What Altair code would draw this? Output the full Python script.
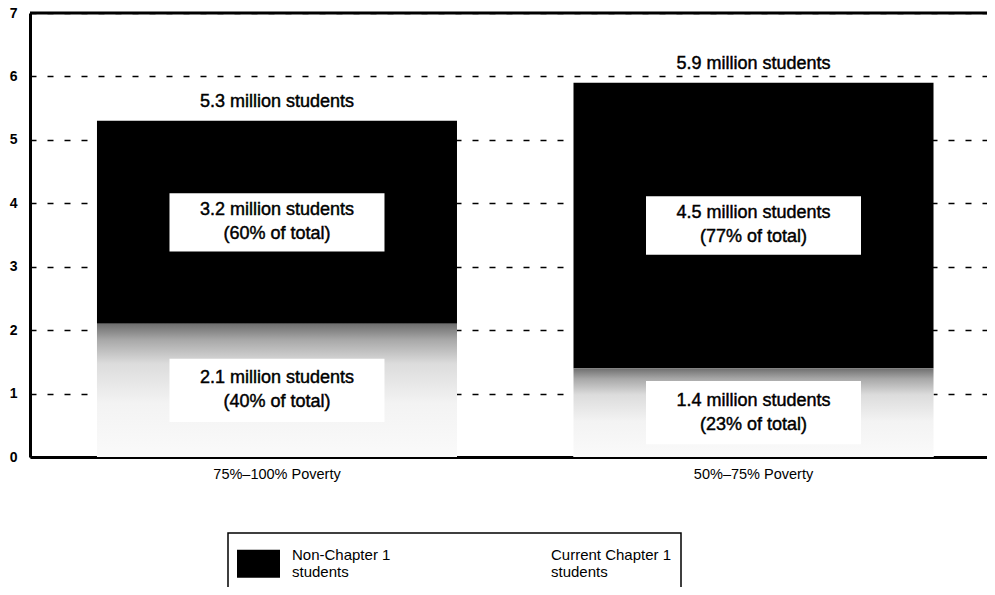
import altair as alt
import pandas as pd

# ---- data ----
categories = ["75%–100% Poverty", "50%–75% Poverty"]
series = ["Non-Chapter 1 students", "Current Chapter 1 students"]
chapter1 = [2.1, 1.4]          # current Chapter 1 students (millions)
non_chapter1 = [3.2, 4.5]      # non-Chapter 1 students (millions)
chapter1_pct = [40, 23]
non_chapter1_pct = [60, 77]
totals = [5.3, 5.9]
y_ticks = [0, 1, 2, 3, 4, 5, 6, 7]

FONT = "Liberation Sans"

rows = []
for i, c in enumerate(categories):
    rows.append(dict(category=c, series=series[1], value=chapter1[i], order=0,
                     mid=chapter1[i] / 2,
                     line1=f"{chapter1[i]} million students",
                     line2=f"({chapter1_pct[i]}% of total)"))
    rows.append(dict(category=c, series=series[0], value=non_chapter1[i], order=1,
                     mid=chapter1[i] + non_chapter1[i] / 2,
                     line1=f"{non_chapter1[i]} million students",
                     line2=f"({non_chapter1_pct[i]}% of total)"))
df = pd.DataFrame(rows)
tot = pd.DataFrame(dict(category=categories, total=totals,
                        text=[f"{t} million students" for t in totals]))

xenc = alt.X("category:N", sort=categories, title=None,
             scale=alt.Scale(paddingInner=0.2445, paddingOuter=0.1264, align=0.556),
             axis=alt.Axis(labelAngle=0, ticks=False, domainWidth=3, domainColor="black",
                           labelFont=FONT, labelFontSize=14.5, labelColor="black",
                           labelPadding=10, grid=False))
yscale = alt.Scale(domain=[0, 7], nice=False)

base = alt.Chart(df)

bars = base.mark_bar().encode(
    x=xenc,
    y=alt.Y("value:Q", stack="zero", scale=yscale, title=None,
            axis=alt.Axis(values=y_ticks, format="d", ticks=False, domainWidth=3,
                          domainColor="black",
                          labelFont=FONT, labelFontSize=14, labelFontWeight="bold",
                          labelColor="black", labelPadding=13,
                          grid=True, gridColor="black", gridWidth=1.5,
                          gridDash=[6, 11])),
    color=alt.Color("series:N", scale=alt.Scale(domain=series, range=["#000000", "#ffffff"]),
                    legend=alt.Legend(title=None, orient="none", legendX=198, legendY=520,
                                      direction="horizontal", columns=2,
                                      symbolType="M-1,-0.65H1V0.65H-1Z", symbolSize=1849,
                                      symbolStrokeWidth=0, labelFont=FONT, labelFontSize=15,
                                      labelColor="black",
                                      labelExpr="[replace(datum.label, ' students', ''), 'students']",
                                      labelBaseline="line-bottom", labelOffset=12, labelLimit=400,
                                      columnPadding=105, padding=9,
                                      strokeColor="black")),
    order=alt.Order("order:Q"),
)

grad = alt.Gradient(gradient="linear",
                    stops=[alt.GradientStop(color="#6e6e6e", offset=0),
                           alt.GradientStop(color="#a8a8a8", offset=0.12),
                           alt.GradientStop(color="#dcdcdc", offset=0.3),
                           alt.GradientStop(color="#f3f3f3", offset=0.6),
                           alt.GradientStop(color="#fafafa", offset=1)],
                    x1=0, x2=0, y1=0, y2=1)
lower = base.transform_filter(alt.datum.order == 0).mark_bar(color=grad).encode(
    x=alt.X("category:N", sort=categories),
    y=alt.Y("value:Q", scale=yscale),
)

boxes = base.transform_calculate(
    top="datum.mid + (datum.order == 1 ? 0.46 : 0.5)",
    bot="datum.mid - (datum.order == 1 ? 0.46 : 0.5)",
).mark_bar(width=215, color="white").encode(
    x=alt.X("category:N", sort=categories),
    y=alt.Y("top:Q", scale=yscale),
    y2="bot:Q",
)

labels = base.transform_calculate(lines="[datum.line1, datum.line2]").mark_text(
    font=FONT, fontSize=18, lineHeight=24, color="black", align="center",
    baseline="middle", dy=-12, stroke="black", strokeWidth=0.45
).encode(
    x=alt.X("category:N", sort=categories),
    y=alt.Y("mid:Q", scale=yscale),
    text="lines:N",
)

total_labels = alt.Chart(tot).mark_text(
    font=FONT, fontSize=18, color="black", align="center", baseline="bottom", dy=-10,
    stroke="black", strokeWidth=0.45
).encode(
    x=alt.X("category:N", sort=categories),
    y=alt.Y("total:Q", scale=yscale),
    text="text:N",
)

top_line = alt.Chart(pd.DataFrame({"v": [y_ticks[-1]]})).mark_rule(
    color="black", strokeWidth=3
).encode(y=alt.Y("v:Q", scale=yscale))

chart = alt.layer(bars, lower, boxes, labels, total_labels, top_line).properties(
    width=957, height=444, autosize="none",
    padding={"left": 22, "top": 5, "right": 0, "bottom": 130},
).configure_view(stroke=None).configure(background="white").configure_legend(
    strokeWidth=1.5
)

chart.save("out.html", embed_options={"renderer": "svg", "actions": False})
